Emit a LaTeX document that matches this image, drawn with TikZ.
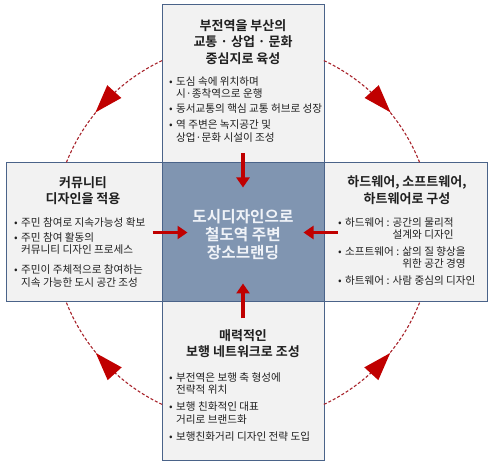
\documentclass[tikz,border=0pt]{standalone}
\usepackage{fontspec}
\setmainfont{Noto Sans CJK KR}[BoldFont={Noto Sans CJK KR Bold}]
\usetikzlibrary{arrows.meta,decorations.markings}
\definecolor{boxfill}{HTML}{F2F2F2}
\definecolor{boxline}{HTML}{4A6389}
\definecolor{hub}{HTML}{8095B1}
\definecolor{arrred}{HTML}{C00000}
\definecolor{circred}{HTML}{A8232B}
\definecolor{hubtext}{HTML}{F0F3F8}
\definecolor{txt}{HTML}{202020}
\newcommand{\bl}{\makebox[7pt][l]{•}}
\newcommand{\ind}{\hspace*{7pt}}
\begin{document}
\begin{tikzpicture}[x=1pt,y=-1pt,
  box/.style={draw=boxline, line width=1pt, fill=boxfill, inner sep=0pt},
  hubbox/.style={draw=boxline, line width=1pt, fill=hub, inner sep=0pt},
  title/.style={font=\bfseries\fontsize{13}{16.5}\selectfont, align=center, inner sep=0pt, text=txt},
  bul/.style={font=\fontsize{10.6}{12.5}\selectfont, align=left, inner sep=0pt, anchor=north west, text=txt},
  redarr/.style={draw=arrred, line width=3.8pt, -{Triangle[length=10pt,width=13pt]}},
  ring/.style={draw=circred, line width=1.1pt, dash pattern=on 3pt off 2pt,
    postaction={decorate},
    decoration={markings, mark=at position 0.52 with {\fill[arrred] (10pt,0pt) -- (-18pt,9.5pt) -- (-18pt,-9.5pt) -- cycle;}}}]
\useasboundingbox (0,0) rectangle (493,465);
% boxes
\node[box, minimum width=162pt, minimum height=158pt] (top) at (243,84) {};
\node[box, minimum width=162pt, minimum height=158pt] (bot) at (243,381) {};
\node[box, minimum width=156pt, minimum height=139pt] (left) at (84,232.5) {};
\node[box, minimum width=163pt, minimum height=139pt] (right) at (405.5,232.5) {};
\node[hubbox, minimum width=162pt, minimum height=139pt] (hub) at (243,232.5) {};
% ring arcs
\draw[ring] (hub.center) ++(-115.2:190) arc[start angle=-115.2, end angle=-158.7, radius=190];
\draw[ring] (hub.center) ++(-64.8:190) arc[start angle=-64.8, end angle=-21.3, radius=190];
\draw[ring] (hub.center) ++(115.2:190) arc[start angle=115.2, end angle=158.4, radius=190];
\draw[ring] (hub.center) ++(64.8:190) arc[start angle=64.8, end angle=21.6, radius=190];
% straight arrows
\coordinate (ts) at ([yshift=9pt]hub.north);
\coordinate (te) at ([yshift=-25pt]hub.north);
\coordinate (ls) at ([xshift=-9pt]hub.west);
\coordinate (le) at ([xshift=26pt]hub.west);
\coordinate (rs) at ([xshift=13pt]hub.east);
\coordinate (re) at ([xshift=-21pt]hub.east);
\coordinate (bs) at ([yshift=-16pt]hub.south);
\coordinate (be) at ([yshift=19pt]hub.south);
\draw[redarr] (ts) -- (te);
\draw[redarr] (ls) -- (le);
\draw[redarr] (rs) -- (re);
\draw[redarr] (bs) -- (be);
% hub text
\node[font=\bfseries\fontsize{15.7}{18}\selectfont, align=center, inner sep=0pt, text=hubtext] (hubt) at (243,235) {도시디자인으로\\철도역 주변\\장소브랜딩};
% top
\node[title] (toptitle) at (243,42) {부전역을 부산의\\교통 · 상업 · 문화\\중심지로 육성};
\node[bul] (topbul) at (169,76.5) {\bl 도심 속에 위치하며\\
\ind 시·종착역으로 운행\\[2.5pt]
\bl 동서교통의 핵심 교통 허브로 성장\\[3.5pt]
\bl 역 주변은 녹지공간 및\\
\ind 상업·문화 시설이 조성};
% left
\node[title] (lefttitle) at (83,190.5) {커뮤니티\\디자인을 적용};
\node[bul] (leftbul) at (14,217.2) {\bl 주민 참여로 지속가능성 확보\\[2.5pt]
\bl 주민 참여 활동의\\
\ind 커뮤니티 디자인 프로세스\\[7.5pt]
\bl 주민이 주체적으로 참여하는\\
\ind 지속 가능한 도시 공간 조성};
% right
\node[title] (righttitle) at (407,190) {하드웨어, 소프트웨어,\\하트웨어로 구성};
\node[bul] (rightbul) at (338,217.2) {\bl 하드웨어 : 공간의 물리적\\
\hphantom{\bl 하드웨어 : }설계와 디자인\\[4pt]
\bl 소프트웨어 : 삶의 질 향상을\\
\hphantom{\bl 소프트웨어 : }위한 공간 경영\\[4pt]
\bl 하트웨어 : 사람 중심의 디자인};
% bottom
\node[title] (bottitle) at (243,343.5) {매력적인\\보행 네트워크로 조성};
\node[bul] (botbul) at (169,372.2) {\bl 부전역은 보행 축 형성에\\
\ind 전략적 위치\\[4.5pt]
\bl 보행 친화적인 대표\\
\ind 거리로 브랜드화\\[4.5pt]
\bl 보행친화거리 디자인 전략 도입};
\end{tikzpicture}
\end{document}
